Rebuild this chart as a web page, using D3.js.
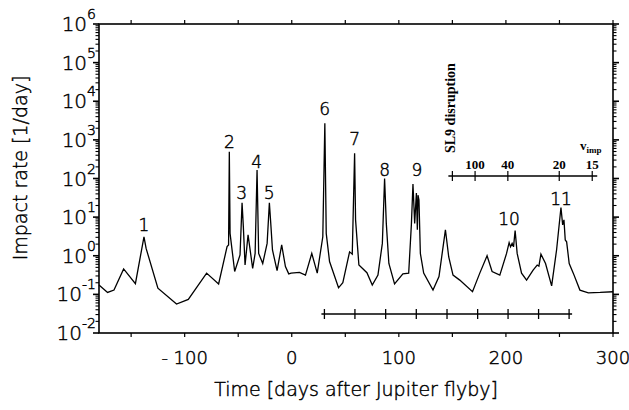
<!DOCTYPE html>
<html>
<head>
<meta charset="utf-8">
<script src="https://cdn.jsdelivr.net/npm/d3@7"></script>
<style>
  html, body { margin: 0; padding: 0; background: #fff; }
  svg { display: block; }
</style>
</head>
<body>
<svg id="chart" width="629" height="410"></svg>
<script>
// ---- data ----
const days = [-180, -172, -166, -157, -146, -138, -136, -125, -107.6, -96.6, -79.5, -68.3, -60.4, -59, -58.3, -57.6, -53.3, -48.3, -46.4, -45.2, -43.6, -40.8, -36.5, -34.2, -32.4, -30.9, -27.1, -23, -20.9, -19.6, -18, -13.7, -9.4, -5.9, -2.8, -0.6, 7.2, 12.8, 18.7, 23.8, 29, 30.9, 32.2, 35.3, 43.7, 47.7, 54, 56.5, 58.7, 59.6, 62.7, 70.2, 75.2, 80.5, 84.6, 86.7, 88.3, 90.7, 96, 103.8, 109.2, 111.7, 113.2, 114.8, 116.4, 117.3, 117.9, 118.8, 120.1, 123.2, 131.9, 137.5, 143.5, 146.6, 150.6, 156.9, 168.8, 175.6, 182.4, 187.1, 194.3, 200.6, 203, 204.3, 205.8, 207.1, 208.6, 210.5, 214.6, 219.3, 225.4, 229.2, 230.8, 232.7, 237, 242.7, 247.3, 251.4, 253, 254.2, 255.4, 256.7, 259.1, 262.9, 269.1, 277, 288, 300];
const rates = [0.175, 0.112, 0.129, 0.457, 0.19, 3.1, 1.55, 0.145, 0.056, 0.074, 0.355, 0.186, 1.72, 1.9, 490, 3.8, 0.39, 1.05, 23.4, 5.6, 0.575, 3.47, 0.468, 1.15, 166, 1.15, 0.63, 2.09, 23.4, 6.9, 1.41, 0.41, 1.9, 0.525, 0.34, 0.355, 0.37, 0.316, 1.15, 0.355, 3.1, 2700, 3.8, 0.71, 0.148, 0.2, 1.26, 1.1, 447, 8.5, 0.575, 0.363, 0.174, 0.316, 2.09, 100, 6.9, 0.63, 0.186, 0.34, 0.355, 6.3, 72, 6.9, 42, 4.7, 37, 27.5, 1.15, 0.355, 0.129, 0.29, 4.7, 0.93, 0.316, 0.234, 0.117, 0.355, 1.0, 0.39, 0.316, 1.15, 2.19, 1.7, 2.09, 1.7, 4.47, 1.15, 0.355, 0.234, 0.427, 0.575, 0.537, 1.1, 0.63, 0.166, 1.41, 17.8, 6.3, 8.5, 2.57, 2.29, 0.63, 0.355, 0.129, 0.11, 0.112, 0.117];

const peakNames = ["1", "2", "3", "4", "5", "6", "7", "8", "9", "10", "11"];
const peakLabelDays = [-138, -58.3, -46.8, -32.7, -21, 30.7, 58.7, 86.7, 116.8, 203, 251.4];
const peakLabelRates = [4.4, 627, 30, 190, 30, 4330, 724, 116, 116, 6.25, 20.6];

const xTickValues = [-150, -100, -50, 0, 50, 100, 150, 200, 250, 300];
const xLabelValues = [-100, 0, 100, 200, 300];
const yExponents = [-2, -1, 0, 1, 2, 3, 4, 5, 6];

const periodTicks = [30.5, 59, 87.7, 116.3, 145, 173.6, 202, 230.5, 259];
const insetTickDays = [150, 171.2, 201.8, 249.8, 280.6];
const insetTickLabels = ["", "100", "40", "20", "15"];

// ---- layout ----
const svg = d3.select("#chart");
const x = d3.scaleLinear().domain([-180, 300]).range([99, 613]);
const y = d3.scaleLog().domain([1e-2, 1e6]).range([333, 24]);
const sans = "'DejaVu Sans', sans-serif";
const serif = "'Liberation Serif', 'DejaVu Serif', serif";

function thinText(sel, size) {
  return sel.attr("font-family", sans).attr("font-size", size).attr("font-weight", 200)
    .attr("fill", "#000").attr("stroke", "#000").attr("stroke-width", 0.45);
}

// frame
svg.append("rect")
  .attr("x", x.range()[0]).attr("y", y.range()[1])
  .attr("width", x.range()[1] - x.range()[0])
  .attr("height", y.range()[0] - y.range()[1])
  .attr("fill", "none").attr("stroke", "#000").attr("stroke-width", 1.6);

// x ticks bottom & top (outward)
const gx = svg.append("g").attr("stroke", "#000").attr("stroke-width", 1.2);
xTickValues.forEach(v => {
  gx.append("line").attr("x1", x(v)).attr("x2", x(v)).attr("y1", y(1e-2)).attr("y2", y(1e-2) + 4);
  gx.append("line").attr("x1", x(v)).attr("x2", x(v)).attr("y1", y(1e6)).attr("y2", y(1e6) - 4);
});
thinText(svg.append("g").selectAll("text").data(xLabelValues).join("text"), 18)
  .attr("x", d => x(d)).attr("y", 364)
  .attr("text-anchor", "middle")
  .text(d => d < 0 ? "- " + Math.abs(d) : String(d));

// y ticks (log, major + minor) on left and right, outward
const gy = svg.append("g").attr("stroke", "#000").attr("stroke-width", 1.1);
yExponents.forEach(e => {
  const base = Math.pow(10, e);
  [x.range()[0], x.range()[1]].forEach((ax, i) => {
    const dir = i === 0 ? -1 : 1;
    gy.append("line").attr("x1", ax).attr("x2", ax + dir * 6).attr("y1", y(base)).attr("y2", y(base)).attr("stroke-width", 1.6);
    if (e < 6) {
      for (let m = 2; m <= 9; m++) {
        gy.append("line").attr("x1", ax).attr("x2", ax + dir * 3.5)
          .attr("y1", y(base * m)).attr("y2", y(base * m));
      }
    }
  });
});
const yl = thinText(svg.append("g").selectAll("text").data(yExponents).join("text"), 20)
  .attr("x", 96).attr("y", d => y(Math.pow(10, d)) + 7)
  .attr("text-anchor", "end");
yl.append("tspan").text("10");
yl.append("tspan").attr("dy", -12).attr("font-size", 14).text(d => d < 0 ? "-" + Math.abs(d) : String(d));

// axis titles
thinText(svg.append("text"), 19)
  .attr("x", 356).attr("y", 396).attr("text-anchor", "middle")
  .text("Time [days after Jupiter flyby]");
thinText(svg.append("text"), 19)
  .attr("transform", "translate(27,168) rotate(-90)")
  .attr("text-anchor", "middle")
  .text("Impact rate [1/day]");

// curve
const pts = days.map((d, i) => [d, rates[i]]);
svg.append("path")
  .attr("d", d3.line().x(d => x(d[0])).y(d => y(d[1]))(pts))
  .attr("fill", "none").attr("stroke", "#000").attr("stroke-width", 1.3)
  .attr("stroke-linejoin", "miter");

// peak labels
thinText(svg.append("g").selectAll("text").data(peakNames).join("text"), 17)
  .attr("x", (d, i) => x(peakLabelDays[i]))
  .attr("y", (d, i) => y(peakLabelRates[i]))
  .attr("text-anchor", "middle")
  .text(d => d);

// periodic bar at bottom
const barY = 314;
const gb = svg.append("g").attr("stroke", "#000").attr("stroke-width", 1.3);
gb.append("line").attr("x1", x(periodTicks[0]) - 3).attr("x2", x(periodTicks[periodTicks.length - 1]) + 3)
  .attr("y1", barY).attr("y2", barY);
periodTicks.forEach(t => {
  gb.append("line").attr("x1", x(t)).attr("x2", x(t)).attr("y1", barY - 5).attr("y2", barY + 5);
});

// inset v_imp axis
const insY = 176;
const gi = svg.append("g").attr("stroke", "#000").attr("stroke-width", 1.6);
gi.append("line").attr("x1", x(insetTickDays[0]) - 4).attr("x2", x(insetTickDays[insetTickDays.length - 1]) + 5)
  .attr("y1", insY).attr("y2", insY);
insetTickDays.forEach(t => {
  gi.append("line").attr("x1", x(t)).attr("x2", x(t)).attr("y1", insY - 5).attr("y2", insY + 5).attr("stroke-width", 1.2);
});
svg.append("g").selectAll("text").data(insetTickLabels).join("text")
  .attr("x", (d, i) => x(insetTickDays[i])).attr("y", insY - 7)
  .attr("text-anchor", "middle")
  .attr("font-family", serif).attr("font-size", 13).attr("font-weight", "bold")
  .text(d => d);
const vt = svg.append("text")
  .attr("x", 580).attr("y", insY - 26)
  .attr("font-family", serif).attr("font-size", 13).attr("font-weight", "bold");
vt.append("tspan").text("v");
vt.append("tspan").attr("dy", 3).attr("font-size", 9).text("imp");
svg.append("text")
  .attr("transform", `translate(${x(insetTickDays[0]) + 3},${insY - 23}) rotate(-90)`)
  .attr("font-family", serif).attr("font-size", 14).attr("font-weight", "bold")
  .text("SL9 disruption");
</script>
</body>
</html>
